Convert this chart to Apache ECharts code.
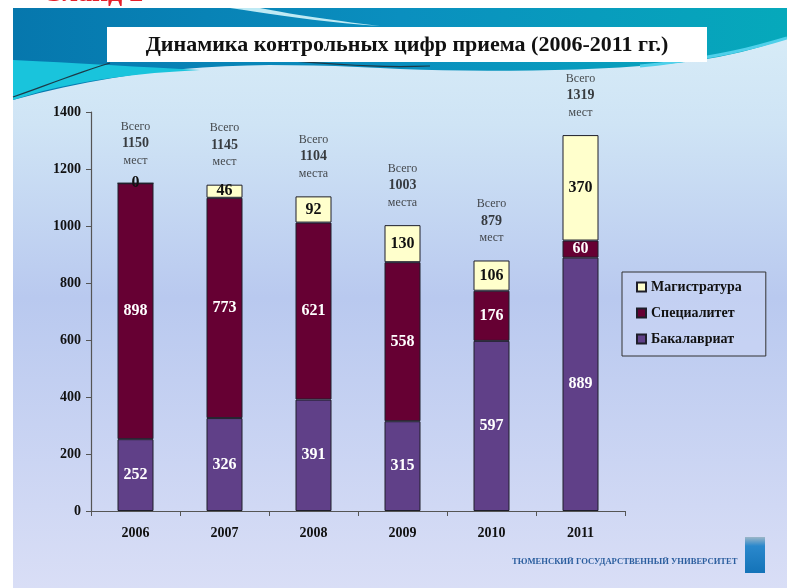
<!DOCTYPE html>
<html>
<head>
<meta charset="utf-8">
<script src="https://cdn.jsdelivr.net/npm/echarts@6/dist/echarts.min.js"></script>
<style>
html,body{margin:0;padding:0;background:#fff;}
#main{width:787px;height:588px;}
</style>
</head>
<body>
<div id="main"></div>
<script>
const years = ['2006', '2007', '2008', '2009', '2010', '2011'];
const bachelor = [252, 326, 391, 315, 597, 889];
const specialist = [898, 773, 621, 558, 176, 60];
const master = [0, 46, 92, 130, 106, 370];
const totals = [1150, 1145, 1104, 1003, 879, 1319];
const placeWords = ['мест', 'мест', 'места', 'места', 'мест', 'мест'];
const yTicks = [0, 200, 400, 600, 800, 1000, 1200, 1400];
const seriesNames = ['Бакалавриат', 'Специалитет', 'Магистратура'];
const titleText = 'Динамика контрольных цифр приема (2006-2011 гг.)';

const FONT = '"Liberation Serif", "Times New Roman", serif';
const chart = echarts.init(document.getElementById('main'), null, {renderer: 'canvas'});

// decorative curve helper (cubic bezier sampled into points)
function bez(p0, p1, p2, p3, n) {
  const pts = [];
  for (let i = 0; i <= n; i++) {
    const t = i / n, u = 1 - t;
    pts.push([
      u*u*u*p0[0] + 3*u*u*t*p1[0] + 3*u*t*t*p2[0] + t*t*t*p3[0],
      u*u*u*p0[1] + 3*u*u*t*p1[1] + 3*u*t*t*p2[1] + t*t*t*p3[1]
    ]);
  }
  return pts;
}
const edge = [].concat(
  bez([787,38],[740,55],[700,62],[640,66],12),
  bez([640,66],[560,72],[460,72],[380,68],12),
  bez([380,68],[260,62],[150,62],[13,100],16)
);
const swoosh = [[13,8],[787,8]].concat(edge);
const cyanBand = [].concat(bez([13,60],[60,62],[120,66],[200,70],10), bez([200,70],[120,74],[60,84],[13,100],10));
const streak = [].concat(bez([230,8],[270,14],[320,22],[380,26],10), bez([380,26],[330,20],[290,14],[260,8],10));

const lin = (x, y, x2, y2, stops) => ({type: 'linear', x: x, y: y, x2: x2, y2: y2,
  colorStops: stops.map(s => ({offset: s[0], color: s[1]}))});

const barLabel = (color) => ({
  show: true, position: 'inside', color: color,
  fontFamily: FONT, fontWeight: 'bold', fontSize: 16
});

const option = {
  animation: false,
  graphic: [
    {type: 'text', z: -12, style: {text: 'Слайд 2', x: 42, y: 8, fill: '#e8202a',
      font: 'bold 28px ' + FONT, textVerticalAlign: 'bottom'}},
    {type: 'rect', z: -10, shape: {x: 13, y: 8, width: 774, height: 580},
     style: {fill: lin(0, 0, 0, 1, [[0, '#d9eef8'], [0.2, '#cfe4f5'], [0.5, '#b9c9ef'], [1, '#d9def6']])}},
    {type: 'polygon', z: -9, shape: {points: swoosh},
     style: {fill: lin(0, 0, 1, 0, [[0, '#0677ad'], [0.5, '#0a8fbf'], [1, '#06a9bb']])}},
    {type: 'polygon', z: -8, shape: {points: cyanBand}, style: {fill: '#19c4dc'}},
    {type: 'polygon', z: -8, shape: {points: streak}, style: {fill: '#bfeaf4'}},
    {type: 'polyline', z: -7, shape: {points: bez([13,97],[50,84],[80,72],[110,63],10)},
     style: {stroke: '#1d3a48', lineWidth: 1.2}},
    {type: 'polyline', z: -7, shape: {points: bez([280,60],[330,64],[380,68],[430,66],10)},
     style: {stroke: '#1d3a48', lineWidth: 1.2}},
    {type: 'polyline', z: -7, shape: {points: bez([640,66],[700,60],[740,52],[787,38],10)},
     style: {stroke: '#4fd0ea', lineWidth: 3}},
    {type: 'rect', z: 5, shape: {x: 107, y: 27, width: 600, height: 35}, style: {fill: '#ffffff'}},
    {type: 'text', z: 6, style: {text: titleText, x: 407, y: 45, fill: '#111',
      font: 'bold 22px ' + FONT, textAlign: 'center', textVerticalAlign: 'middle'}},
    {type: 'text', z: 6, style: {text: 'ТЮМЕНСКИЙ ГОСУДАРСТВЕННЫЙ УНИВЕРСИТЕТ', x: 512, y: 562,
      fill: '#2b5e9e', font: 'bold 8.6px ' + FONT, textVerticalAlign: 'middle'}},
    {type: 'rect', z: 6, shape: {x: 745, y: 537, width: 20, height: 36},
     style: {fill: lin(0, 0, 0, 1, [[0, '#9bb6c8'], [0.25, '#2a88cc'], [1, '#1473b8']])}}
  ],
  grid: {left: 91, top: 112, width: 534, height: 399, containLabel: false},
  legend: {
    data: ['Магистратура', 'Специалитет', 'Бакалавриат'],
    orient: 'vertical', left: 622, top: 272,
    padding: [8, 24, 10, 14], itemGap: 12,
    itemWidth: 9, itemHeight: 9, icon: 'rect',
    borderColor: '#333', borderWidth: 1, backgroundColor: 'rgba(205,215,245,0.5)',
    textStyle: {fontFamily: FONT, fontWeight: 'bold', fontSize: 14, color: '#111'}
  },
  xAxis: {
    type: 'category', data: years,
    axisLine: {lineStyle: {color: '#555', width: 1.2}},
    axisTick: {show: true, length: 5, lineStyle: {color: '#555'}},
    axisLabel: {fontFamily: FONT, fontWeight: 'bold', fontSize: 14, color: '#111', margin: 15}
  },
  yAxis: {
    type: 'value', min: yTicks[0], max: yTicks[yTicks.length - 1], interval: yTicks[1] - yTicks[0],
    axisLine: {show: true, lineStyle: {color: '#555', width: 1.2}},
    axisTick: {show: true, length: 5, lineStyle: {color: '#555'}},
    splitLine: {show: false},
    axisLabel: {fontFamily: FONT, fontWeight: 'bold', fontSize: 14, color: '#111', margin: 10,
      formatter: (v) => String(v)}
  },
  series: [
    {name: seriesNames[0], type: 'bar', stack: 't', data: bachelor, barWidth: 36,
     itemStyle: {color: '#604088', borderColor: '#1e1e2a', borderWidth: 1},
     label: barLabel('#ffffff')},
    {name: seriesNames[1], type: 'bar', stack: 't', data: specialist, barWidth: 36,
     itemStyle: {color: '#660033', borderColor: '#1e1e2a', borderWidth: 1},
     label: barLabel('#ffffff')},
    {name: seriesNames[2], type: 'bar', stack: 't', data: master, barWidth: 36,
     itemStyle: {color: '#ffffcc', borderColor: '#1e1e2a', borderWidth: 1},
     label: barLabel('#111111')},
    {name: 'total', type: 'scatter', data: totals, symbolSize: 0, silent: true,
     label: {show: true, position: 'top', distance: 14,
       formatter: (p) => '{a|Всего}\n{b|' + p.value + '}\n{a|' + placeWords[p.dataIndex] + '}',
       rich: {
         a: {fontFamily: FONT, fontSize: 12, color: '#222', lineHeight: 17, align: 'center'},
         b: {fontFamily: FONT, fontSize: 14, fontWeight: 'bold', color: '#111', lineHeight: 17, align: 'center'}
       }}}
  ]
};
chart.setOption(option);
</script>
</body>
</html>
